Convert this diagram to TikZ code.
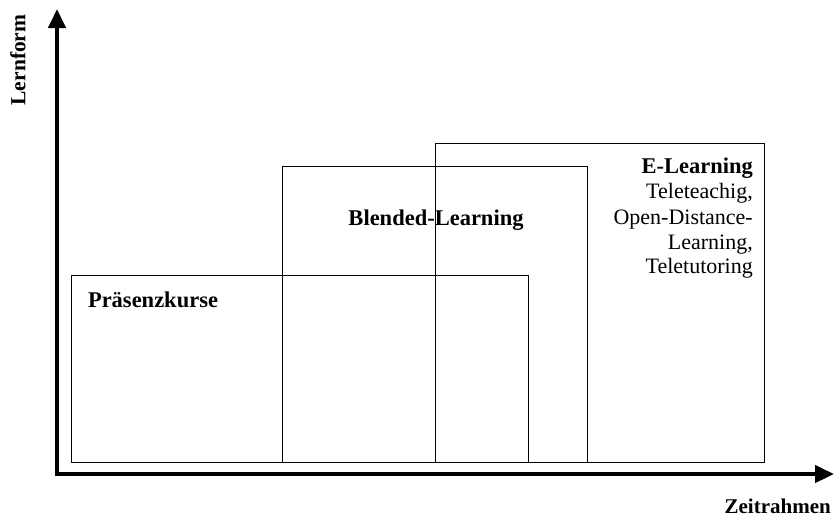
\documentclass[tikz,border=0pt]{standalone}
\usepackage{fontspec}
\setmainfont{Liberation Serif}
\usetikzlibrary{arrows.meta}
\begin{document}
\begin{tikzpicture}[x=1pt,y=-1pt,
  box/.style={draw=black, line width=1.3pt, fill=none, inner sep=0pt, anchor=north west},
  axis/.style={line width=4.5pt, {Triangle[width=17pt,length=19pt]}-{Triangle[width=17pt,length=19pt]}},
  lab/.style={font=\fontsize{22.5}{26}\selectfont\bfseries, inner sep=0pt},
  txt/.style={font=\fontsize{22}{25}\selectfont, inner sep=0pt, anchor=base east}]
\path[use as bounding box, fill=white] (0,0) rectangle (835,520);
% boxes
\node[box, minimum width=457pt, minimum height=187pt] (pras) at (71,275) {};
\node[box, minimum width=305pt, minimum height=296pt] (blend) at (282,166) {};
\node[box, minimum width=329pt, minimum height=319pt] (elearn) at (435,143) {};
% axes
\coordinate (origin) at (57,474);
\coordinate (ytip) at (57,9);
\coordinate (xtip) at (834,474);
\draw[axis] (ytip) -- (origin) -- (xtip);
% labels
\node[lab, rotate=90, font=\fontsize{21.5}{26}\selectfont\bfseries] (lernform) at (18,60) {Lernform};
\node[lab, anchor=east, font=\fontsize{21}{26}\selectfont\bfseries] (zeit) at (831,506) {Zeitrahmen};
\node[lab] (prasl) at (153,300) {Präsenzkurse};
\node[lab] (blendl) at (436,220) {Blended-Learning};
\node[txt, font=\fontsize{22.5}{26}\selectfont\bfseries] (e1) at (753,173) {E-Learning};
\node[txt] (e2) at (753,198) {Teleteachig,};
\node[txt] (e3) at (753,224) {Open-Distance-};
\node[txt] (e4) at (753,249) {Learning,};
\node[txt] (e5) at (753,273) {Teletutoring};
\end{tikzpicture}
\end{document}
